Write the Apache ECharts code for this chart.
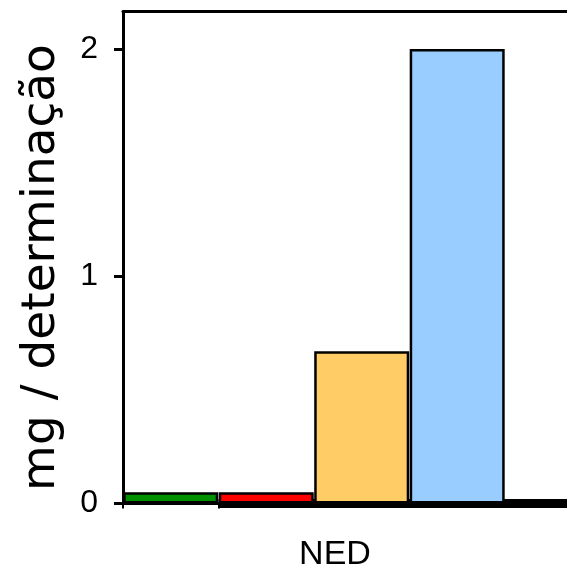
<!DOCTYPE html>
<html>
<head>
<meta charset="utf-8">
<script src="https://cdn.jsdelivr.net/npm/echarts@6/dist/echarts.min.js"></script>
<style>html,body{margin:0;padding:0;background:#fff}#c{width:567px;height:565px}</style>
</head>
<body>
<div id="c"></div>
<script>
// Data
const categoryName = 'NED';
const seriesNames = ['S1', 'S2', 'S3', 'S4'];
const seriesPositions = [0.5, 1.5, 2.5, 3.5];
const seriesValues = [0.05, 0.05, 0.67, 2.0];
const seriesColors = ['#009000', '#ff0000', '#ffcc66', '#99ccff'];
const yTicks = [0, 1, 2];

const chart = echarts.init(document.getElementById('c'), null, {renderer: 'canvas'});
const xMax = 4.65;
chart.setOption({
  animation: false,
  backgroundColor: '#fff',
  grid: {left: 123, top: 11.5, right: 0, bottom: 61.5, outerBoundsMode: 'none', containLabel: false},
  xAxis: [{
    type: 'value', min: 0, max: xMax, position: 'bottom',
    axisLine: {show: true, lineStyle: {color: '#000', width: 3}},
    axisTick: {show: true, customValues: [0, 1], length: 5, lineStyle: {color: '#000', width: 2}},
    axisLabel: {show: true, customValues: [2.22], formatter: () => categoryName, margin: 34,
      color: '#000', fontFamily: 'Liberation Sans, Arial', fontSize: 34},
    splitLine: {show: false}
  }, {
    type: 'value', min: 0, max: xMax, position: 'top',
    axisLine: {show: true, lineStyle: {color: '#000', width: 3}},
    axisTick: {show: false}, axisLabel: {show: false}, splitLine: {show: false}
  }],
  yAxis: {
    type: 'value', min: 0, max: 2.165, interval: 1,
    axisLine: {show: true, lineStyle: {color: '#000', width: 3}},
    axisTick: {show: true, inside: false, length: 9, lineStyle: {color: '#000', width: 3},
      customValues: yTicks},
    axisLabel: {margin: 25, color: '#000', fontFamily: 'Liberation Sans, Arial', fontSize: 32,
      customValues: yTicks},
    splitLine: {show: false},
    name: 'mg / determinação', nameLocation: 'middle', nameRotate: 90, nameGap: 58,
    nameTextStyle: {color: '#000', fontFamily: 'DejaVu Sans', fontSize: 47, padding: [0, 20, 0, 0]}
  },
  series: [{
    type: 'bar',
    barWidth: 95,
    data: seriesValues.map((v, i) => ({
      value: [seriesPositions[i], v],
      name: seriesNames[i],
      itemStyle: {color: seriesColors[i], borderColor: '#000', borderWidth: 2.5}
    })),
    markLine: {
      z: 1, silent: true, symbol: 'none', label: {show: false},
      lineStyle: {color: '#000', width: 9, type: 'solid'},
      data: [[{coord: [1, 0]}, {coord: [xMax, 0]}]]
    }
  }]
});
</script>
</body>
</html>
